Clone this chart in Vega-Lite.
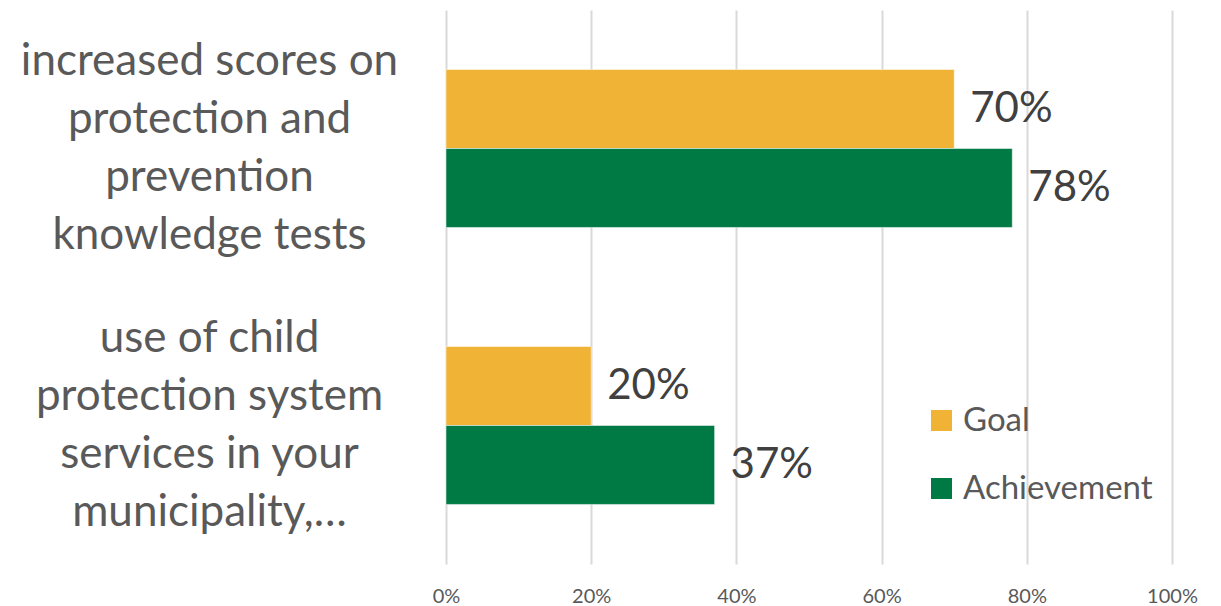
{
  "$schema": "https://vega.github.io/schema/vega-lite/v6.json",
  "width": 726,
  "height": 554,
  "autosize": "none",
  "padding": {"left": 446, "top": 10, "right": 49, "bottom": 42},
  "background": "white",
  "config": {"view": {"stroke": null}, "font": "Lato"},
  "data": {
    "values": [
      {"category": "increased scores on|protection and|prevention|knowledge tests", "series": "Goal", "value": 0.70},
      {"category": "increased scores on|protection and|prevention|knowledge tests", "series": "Achievement", "value": 0.78},
      {"category": "use of child|protection system|services in your|municipality,…", "series": "Goal", "value": 0.20},
      {"category": "use of child|protection system|services in your|municipality,…", "series": "Achievement", "value": 0.37}
    ]
  },
  "encoding": {
    "y": {
      "field": "category",
      "type": "nominal",
      "sort": null,
      "scale": {"paddingInner": 0.43, "paddingOuter": 0.215},
      "axis": {
        "title": null,
        "domain": false,
        "ticks": false,
        "labelExpr": "split(datum.label, '|')",
        "labelAlign": "center",
        "labelBaseline": "middle",
        "labelPadding": 237,
        "labelOffset": -87,
        "labelFontSize": 44,
        "labelLineHeight": 58,
        "labelColor": "#595959",
        "labelFont": "Lato",
        "labelLimit": 500,
        "labelOverlap": false
      }
    },
    "yOffset": {"field": "series", "type": "nominal", "sort": ["Goal", "Achievement"], "scale": {"paddingInner": 0, "paddingOuter": 0}},
    "x": {
      "field": "value",
      "type": "quantitative",
      "scale": {"domain": [0, 1]},
      "axis": {
        "title": null,
        "format": ".0%",
        "values": [0, 0.2, 0.4, 0.6, 0.8, 1],
        "domain": false,
        "ticks": false,
        "grid": true,
        "gridColor": "#D9D9D9",
        "gridWidth": 2,
        "labelFontSize": 20,
        "labelColor": "#595959",
        "labelPadding": 22,
        "labelFont": "Lato",
        "labelOverlap": false,
        "labelFlush": false,
        "labelBound": false
      }
    }
  },
  "layer": [
    {
      "mark": {"type": "bar", "stroke": "white", "strokeWidth": 0.5},
      "encoding": {
        "color": {
          "field": "series",
          "type": "nominal",
          "sort": ["Goal", "Achievement"],
          "scale": {"domain": ["Goal", "Achievement"], "range": ["#F0B335", "#007A45"]},
          "legend": {
            "title": null,
            "orient": "none",
            "legendX": 479,
            "legendY": 394,
            "symbolType": "square",
            "symbolSize": 441,
            "symbolStrokeWidth": 0,
            "labelFontSize": 33,
            "labelColor": "#595959",
            "labelFont": "Lato",
            "labelOffset": 5,
            "labelLimit": 400,
            "rowPadding": 34
          }
        }
      }
    },
    {
      "mark": {"type": "text", "align": "left", "baseline": "middle", "dx": 16, "fontSize": 42, "color": "#404040", "font": "Lato"},
      "encoding": {
        "text": {"field": "value", "type": "quantitative", "format": ".0%"}
      }
    }
  ]
}
